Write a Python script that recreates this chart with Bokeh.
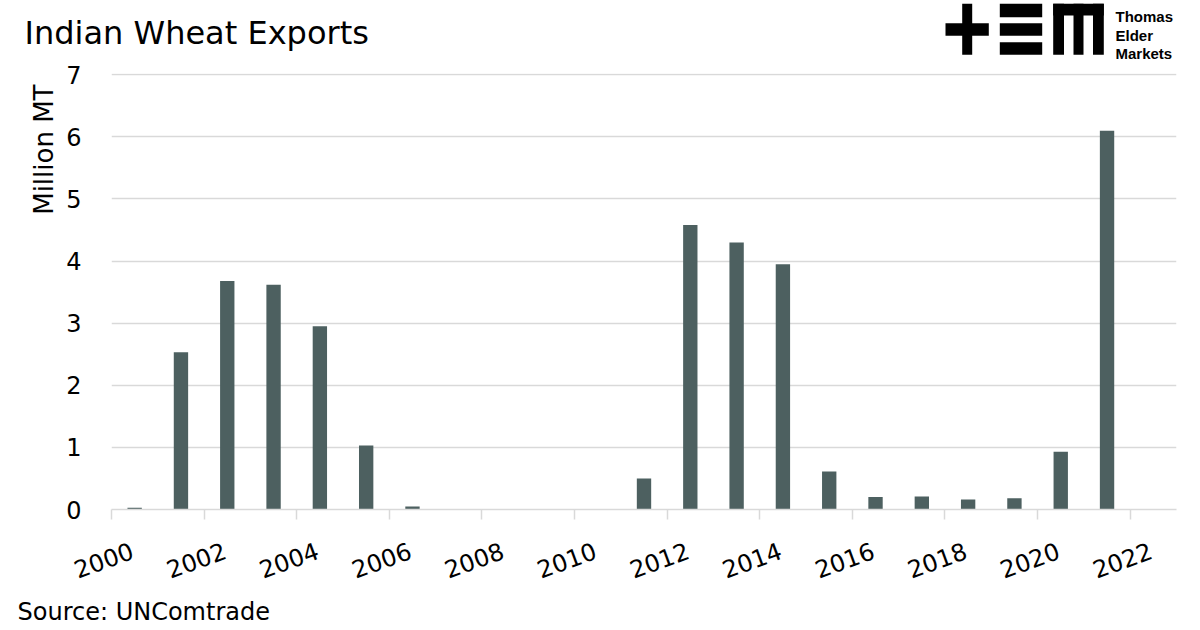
import math
from bokeh.plotting import figure
from bokeh.layouts import column
from bokeh.models import Range1d, FixedTicker, Title, LinearAxis
from bokeh.core.properties import value
from bokeh.embed import file_html
from bokeh.resources import INLINE

# ---- data ----
years = [2000, 2001, 2002, 2003, 2004, 2005, 2006, 2007, 2008, 2009, 2010,
         2011, 2012, 2013, 2014, 2015, 2016, 2017, 2018, 2019, 2020, 2021]
exports_mmt = [0.03, 2.53, 3.68, 3.62, 2.95, 1.03, 0.05, 0.0, 0.0, 0.0, 0.0,
               0.50, 4.58, 4.30, 3.95, 0.61, 0.20, 0.21, 0.16, 0.18, 0.93, 6.10]
x_tick_years = [2000, 2002, 2004, 2006, 2008, 2010, 2012, 2014, 2016, 2018, 2020, 2022]
y_tick_values = [0, 1, 2, 3, 4, 5, 6, 7]

title_text = "Indian Wheat Exports"
y_label_text = "Million MT"
source_text = "Source: UNComtrade"
logo_words = ["Thomas", "Elder", "Markets"]

FONT = "DejaVu Sans"
BAR = "#4d6060"
GRID = "#d9d9d9"
LABEL_SHIFT = 0.45  # years: rotated year labels sit slightly right of their tick
HEADER_H = 60

# ---------------- header (title + logo), page-pixel coordinates ----------------
h = figure(width=1200, height=HEADER_H, x_range=Range1d(0, 1200),
           y_range=Range1d(HEADER_H, 0), output_backend="svg",
           toolbar_location=None, x_axis_type=None, y_axis_type=None,
           min_border=0, min_border_left=0, min_border_right=0,
           min_border_top=0, min_border_bottom=0)
h.frame_align = False
h.outline_line_color = None
h.xgrid.visible = False
h.ygrid.visible = False
h.text(x=[24], y=[32], text=[title_text], text_font=value(FONT),
       text_font_size="32px", text_color="black", text_baseline="alphabetic")

# logo blocks: plus, three bars, "m"
logo_left = [961.7, 945.0, 999.3, 999.3, 999.3, 1052.7, 1052.7, 1073.0, 1092.5]
logo_right = [971.7, 988.3, 1041.7, 1041.7, 1041.7, 1103.3, 1063.5, 1083.0, 1103.3]
logo_top = [3.3, 22.7, 3.3, 22.7, 41.7, 3.3, 3.3, 3.3, 3.3]
logo_bottom = [54.3, 35.3, 16.7, 35.3, 54.3, 15.0, 54.3, 54.3, 54.3]
h.quad(left=logo_left, right=logo_right, top=logo_top, bottom=logo_bottom,
       fill_color="black", line_color=None)
h.text(x=[1115, 1115, 1115], y=[16.2, 34.6, 52.8], text=logo_words,
       text_font=value("Liberation Sans"), text_font_style="bold",
       text_font_size="15px", text_color="black", text_baseline="alphabetic")

# ---------------- main chart ----------------
main_h = 630 - HEADER_H
p = figure(width=1200, height=main_h,
           x_range=Range1d(2000, 2023), y_range=Range1d(0, 7.02),
           output_backend="svg", toolbar_location=None, x_axis_type=None,
           min_border_left=111, min_border_right=24,
           min_border_top=73 - HEADER_H, min_border_bottom=main_h - (510 - HEADER_H))
p.frame_align = False
p.outline_line_color = None
p.background_fill_color = "white"
p.border_fill_color = "white"

# bars centred in the middle of each year slot
p.vbar(x=[y + 0.5 for y in years], top=exports_mmt, bottom=0, width=0.31,
       fill_color=BAR, line_color=None)

# grid
p.xgrid.visible = False
p.ygrid.grid_line_color = GRID
p.ygrid.grid_line_width = 1.5
p.ygrid.ticker = FixedTicker(ticks=y_tick_values)

# y axis
ya = p.yaxis[0]
ya.ticker = FixedTicker(ticks=y_tick_values)
ya.axis_line_color = None
ya.major_tick_line_color = None
ya.minor_tick_line_color = None
ya.major_label_standoff = 24
ya.major_label_text_font = FONT
ya.major_label_text_font_size = "24px"
ya.major_label_text_color = "black"

# x axis on a slightly shifted range so the rotated labels sit right of their ticks;
# the tick marks themselves are drawn as minor ticks at the true year positions
p.extra_x_ranges = {"labels": Range1d(2000 - LABEL_SHIFT, 2023 - LABEL_SHIFT)}
xa = LinearAxis(x_range_name="labels",
                ticker=FixedTicker(ticks=x_tick_years,
                                   minor_ticks=[t - LABEL_SHIFT for t in x_tick_years]))
xa.axis_line_color = GRID
xa.axis_line_width = 1.5
xa.major_tick_line_color = None
xa.major_tick_out = 0
xa.major_tick_in = 0
xa.minor_tick_line_color = GRID
xa.minor_tick_line_width = 1.5
xa.minor_tick_out = 10
xa.minor_tick_in = 0
xa.major_label_orientation = math.radians(20)
xa.major_label_standoff = 30
xa.major_label_text_font = FONT
xa.major_label_text_font_size = "24px"
xa.major_label_text_color = "black"
p.add_layout(xa, "below")

# y-axis title near the top of the axis
p.add_layout(Title(text=y_label_text, text_font=FONT, text_font_size="26px",
                   text_font_style="normal", text_color="black",
                   align="right", offset=11), "left")
# source note
p.add_layout(Title(text=source_text, text_font=FONT, text_font_size="24px",
                   text_font_style="normal", text_color="black",
                   align="left", offset=-94, standoff=10), "below")

layout = column(h, p, spacing=0)
open("out.html", "w").write(file_html(layout, INLINE))
